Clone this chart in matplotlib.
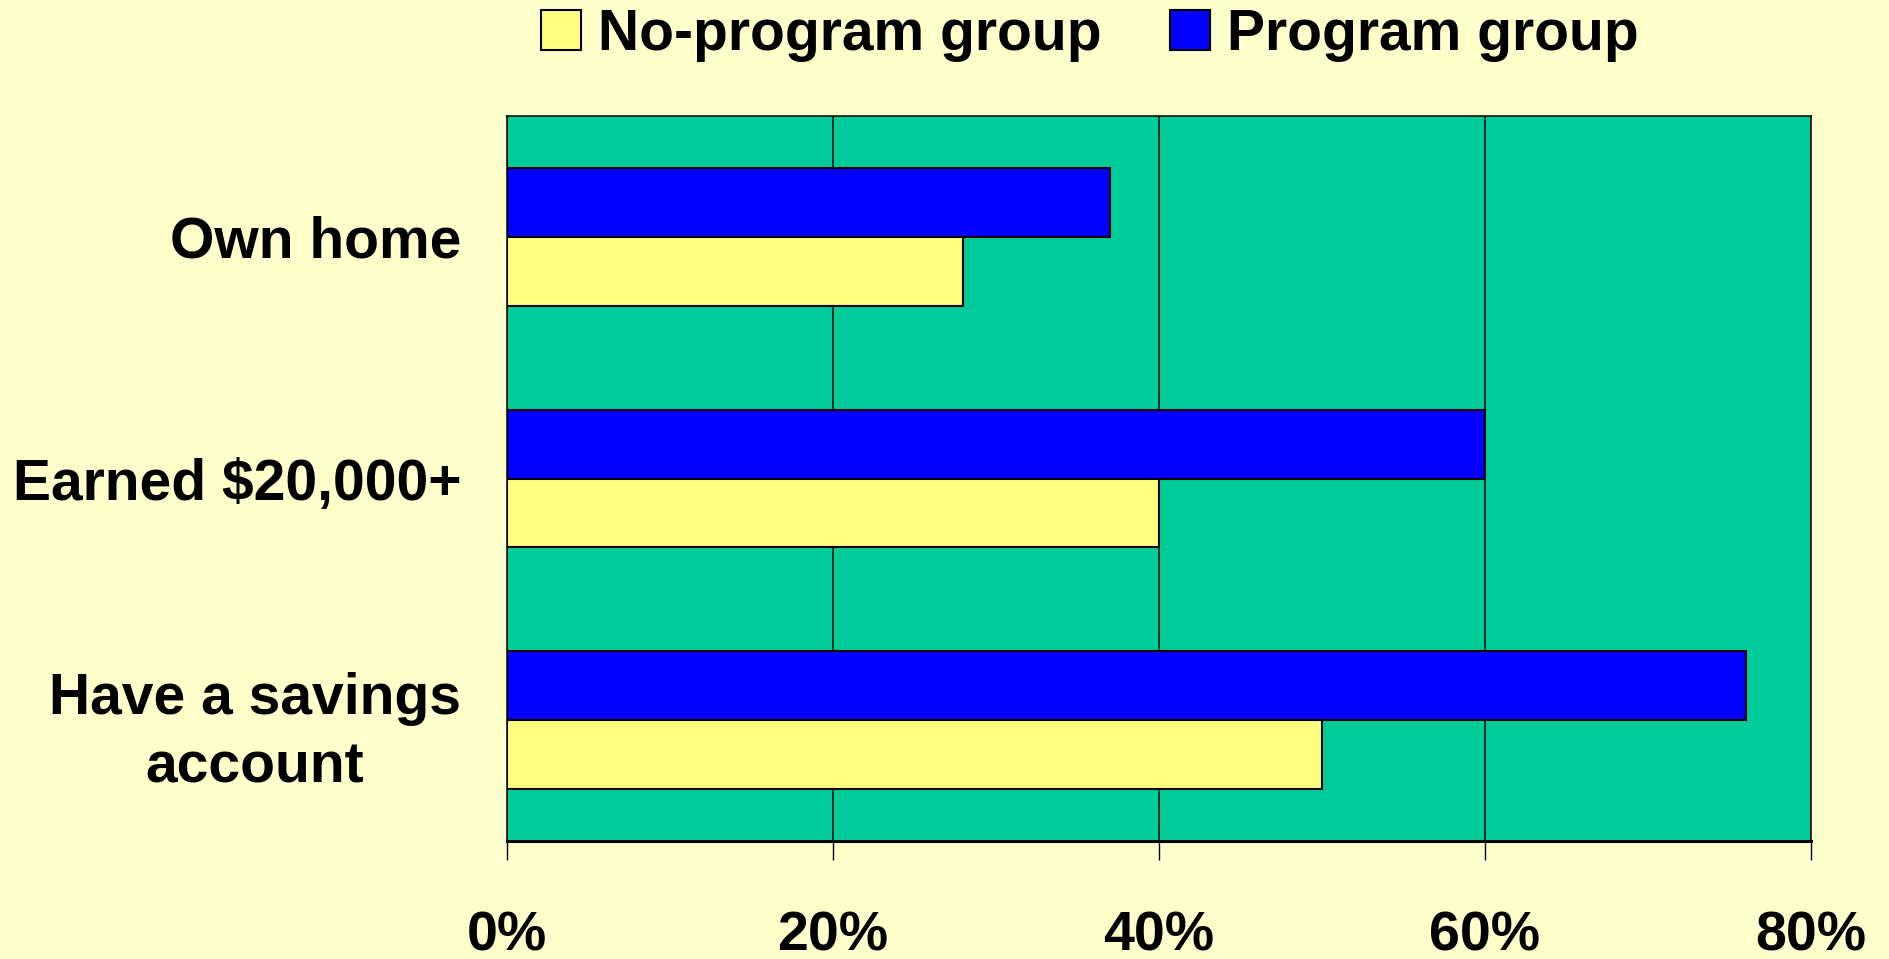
import matplotlib
matplotlib.use("Agg")
import matplotlib.pyplot as plt
import numpy as np
from matplotlib.patches import Patch

categories = ["Own home", "Earned $20,000+", "Have a savings\naccount"]
program = [37, 60, 76]
no_program = [28, 40, 50]
xticks = [0, 20, 40, 60, 80]
xtick_labels = ["0%", "20%", "40%", "60%", "80%"]

BG = "#FFFFCC"
PLOT_BG = "#00CC99"
BLUE = "#0000FF"
YELLOW = "#FFFF80"

plt.rcParams['font.family'] = ['Liberation Sans', 'DejaVu Sans']
plt.rcParams['font.weight'] = 'bold'

fig = plt.figure(figsize=(18.89, 9.59), dpi=100, facecolor=BG)
ax = fig.add_axes([0.2684, 0.1230, 0.6903, 0.7560])
ax.set_facecolor(PLOT_BG)

y = np.arange(len(categories))
h = 0.285
ax.barh(y - h / 2, program, height=h, color=BLUE, edgecolor="black", linewidth=1.5, zorder=3)
ax.barh(y + h / 2, no_program, height=h, color=YELLOW, edgecolor="black", linewidth=1.5, zorder=3)

ax.set_xlim(0, 80)
ax.set_ylim(2.5, -0.5)
ax.set_xticks(xticks)
ax.set_xticklabels(xtick_labels, fontsize=40, fontweight='bold')
ax.set_yticks(y)
ax.set_yticklabels(categories, fontsize=41, fontweight='bold', multialignment='center', linespacing=1.35)
ax.tick_params(axis='y', length=0, pad=33)
ax.tick_params(axis='x', length=14, width=1.0, direction='out', pad=36, color='black')

ax.xaxis.grid(True, color='black', linewidth=1.1, zorder=1)
ax.set_axisbelow(True)
for s in ['top', 'left', 'right']:
    ax.spines[s].set_linewidth(1.1)
ax.spines['bottom'].set_linewidth(2.2)

handles = [Patch(facecolor=YELLOW, edgecolor='black', linewidth=1.5, label='No-program group'),
           Patch(facecolor=BLUE, edgecolor='black', linewidth=1.5, label='Program group')]
fig.legend(handles=handles, loc='center', bbox_to_anchor=(0.577, 0.964), ncol=2,
           frameon=False, prop={'size': 41, 'weight': 'bold'},
           handlelength=0.7, handleheight=0.7, handletextpad=0.3, columnspacing=1.2)

fig.savefig("out.png", dpi=100, facecolor=BG)
